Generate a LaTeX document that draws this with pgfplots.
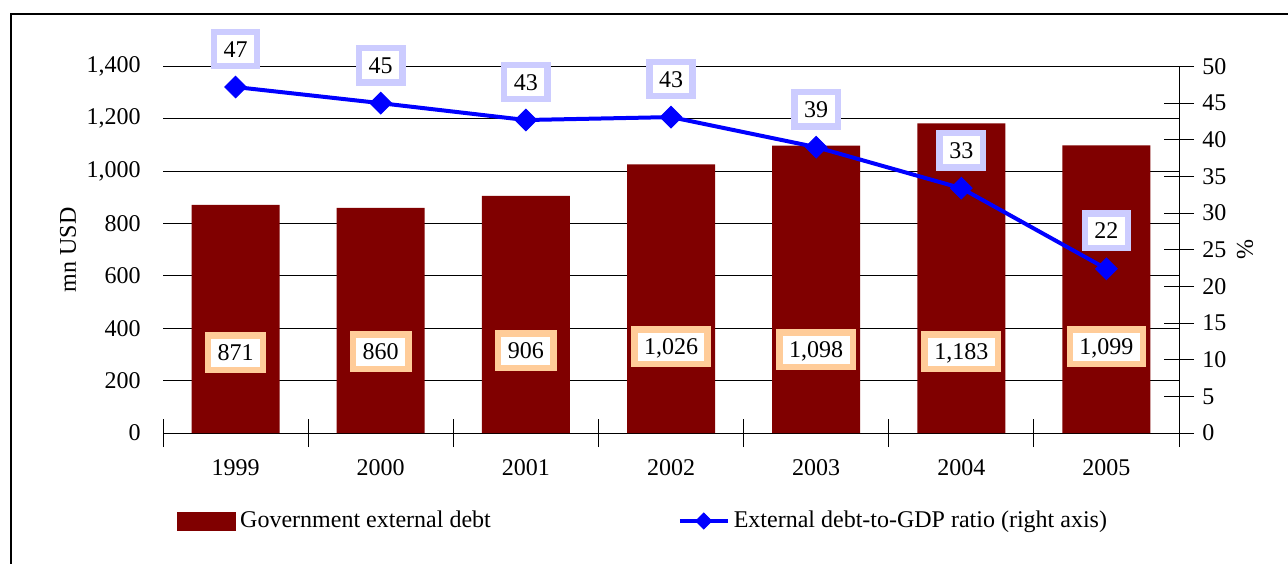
\documentclass[border=0pt]{standalone}
\usepackage{pgfplots}
\usepackage{pgfplotstable}
\pgfplotsset{compat=1.18}
\usepackage{fontspec}
\setmainfont{Liberation Serif}
\definecolor{barred}{HTML}{800000}
\definecolor{peach}{HTML}{FFCC99}
\definecolor{lav}{HTML}{CCCCFF}
\definecolor{lblue}{HTML}{0000FF}

\pgfplotstableread{
x debt laby
0 871 306
1 860 310
2 906 314
3 1026 329
4 1098 318
5 1183 310
6 1099 329
}\debttable
\pgfplotstableread{
x ratio
0 47.2
1 45.0
2 42.7
3 43.1
4 39.0
5 33.4
6 22.4
}\ratiotable

\tikzset{
  lab/.style={anchor=center, fill=white, line width=3.2pt, inner xsep=4.8pt, inner ysep=4.6pt,
    text height=8pt, text depth=0pt, text=black, font=\fontsize{12}{14}\selectfont},
}
\pgfplotsset{
  common/.style={
    scale only axis, width=508pt, height=183.25pt,
    at={(81.5pt,65pt)}, anchor=south west,
    xmin=-0.5, xmax=6.5,
    font=\fontsize{12}{14}\selectfont,
    /pgf/number format/assume math mode=true,
    /pgf/number format/1000 sep={,},
    tick align=center,
  },
  lineleg/.style={legend image code/.code={\draw[mark repeat=2,mark phase=2,##1, mark size=2.8pt] plot coordinates {(0pt,0pt) (12pt,0pt) (24pt,0pt)};}},
  barleg/.style={legend image code/.code={\fill[barred] (0pt,-4.5pt) rectangle (29pt,4.5pt);}},
}

\begin{document}
\fontsize{12}{14}\selectfont
\begin{tikzpicture}
\useasboundingbox (0,0) rectangle (644pt,281.5pt);
\clip (0,0) rectangle (644pt,281.5pt);
\draw[line width=1pt] (5.5pt,-20pt) rectangle (700pt,274.5pt);

\begin{axis}[common,
  ymin=0, ymax=1400, ytick={0,200,...,1400},
  ymajorgrids, grid style={black, line width=0.5pt},
  axis x line*=bottom, axis y line*=left,
  y axis line style={draw=none}, ytick style={draw=none},
  x axis line style={black, line width=0.5pt, -},
  xtick={-0.5,0.5,...,6.5},
  xticklabels={1999,2000,2001,2002,2003,2004,2005},
  x tick label as interval,
  xticklabel style={yshift=-2pt},
  xtick style={black, line width=0.5pt},
  major tick length=14pt,
  ylabel={mn USD},
  every axis y label/.style={at={(axis description cs:-0.0935,0.5)}, rotate=90, anchor=center},
]
\addplot[ybar, bar width=44pt, fill=barred, draw=none] table[x=x,y=debt]{\debttable};
\addplot[only marks, mark=none, point meta=explicit, nodes near coords,
  every node near coord/.append style={lab, draw=peach}]
  table[x=x, y=laby, meta=debt]{\debttable};
\end{axis}

\begin{axis}[common,
  ymin=0, ymax=50, ytick={0,5,...,50},
  axis y line*=right, axis x line=none,
  y axis line style={black, line width=0.5pt, -},
  ytick style={black, line width=0.5pt},
  major tick length=15pt,
  ylabel={\%},
  every axis y label/.style={at={(axis description cs:1.065,0.5)}, rotate=90, anchor=center},
  legend columns=2,
  legend style={draw=none, fill=none, at={(0.0079,-0.240)}, anchor=west,
    font=\fontsize{12}{14}\selectfont,
    /tikz/every even column/.append style={column sep=91.5pt}},
  legend cell align=left,
]
\addlegendimage{barleg}
\addlegendentry{Government external debt}
\addplot[lblue, line width=2pt, mark=square*, mark size=3.8pt,
  mark options={rotate=45, solid, line width=0.5pt},
  nodes near coords={\pgfmathprintnumber[fixed,precision=0]{\pgfplotspointmeta}},
  every node near coord/.append style={lab, draw=lav, yshift=19pt},
  lineleg
] table[x=x,y=ratio]{\ratiotable};
\addlegendentry{External debt-to-GDP ratio (right axis)}
\end{axis}
\end{tikzpicture}
\end{document}
